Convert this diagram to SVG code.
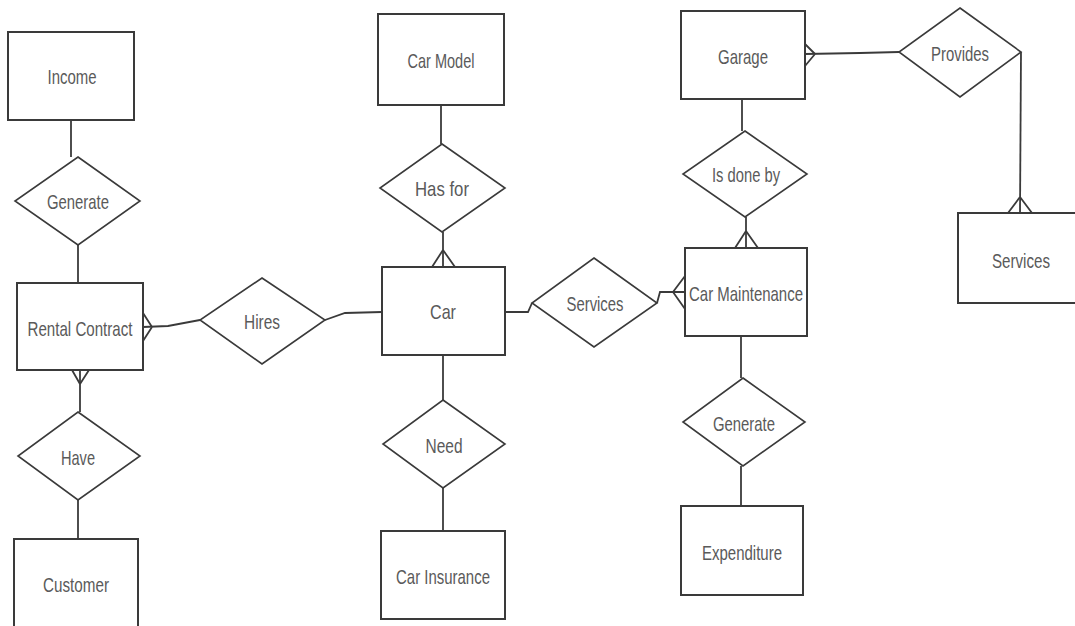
<svg xmlns="http://www.w3.org/2000/svg" width="1075" height="626" viewBox="0 0 1075 626">
<style>
.ent{fill:#fff;stroke:#3a3a3a;stroke-width:2}
.rel{fill:#fff;stroke:#3a3a3a;stroke-width:1.6}
.lbl{font-family:"Liberation Sans",Arial,sans-serif;font-size:21px;fill:#5a5a5a;text-anchor:middle;dominant-baseline:central}
.ln{fill:none;stroke:#3a3a3a;stroke-width:1.8}
</style>
<rect width="1075" height="626" fill="#fff"/>
<g id="connectors">
<path class="ln" d="M71,120 L71,157"/>
<path class="ln" d="M78,245 L78,283"/>
<path class="ln" d="M143,327 L168,326 L200,320"/>
<path class="ln" d="M152,327 L143,313 M152,327 L143,341"/>
<path class="ln" d="M80,370 L80,412"/>
<path class="ln" d="M80,384 L72,370 M80,384 L89,370"/>
<path class="ln" d="M78,500 L78,539"/>
<path class="ln" d="M325,320 L345,313 L382,312"/>
<path class="ln" d="M441,105 L441,144"/>
<path class="ln" d="M443,232 L443,267"/>
<path class="ln" d="M443,250 L432,267 M443,250 L455,267"/>
<path class="ln" d="M443,355 L443,400"/>
<path class="ln" d="M443,488 L443,531"/>
<path class="ln" d="M505,312 L528,312 L532,303"/>
<path class="ln" d="M657,303 L660,292 L685,292"/>
<path class="ln" d="M673,292 L685,276 M673,292 L685,309"/>
<path class="ln" d="M742,99 L742,131"/>
<path class="ln" d="M746,217 L746,248"/>
<path class="ln" d="M746,231 L735,248 M746,231 L758,248"/>
<path class="ln" d="M805,54 L860,53 L899,52"/>
<path class="ln" d="M815,54 L805,44 M815,54 L805,66"/>
<path class="ln" d="M1021,52 L1020,213"/>
<path class="ln" d="M1020,197 L1008,213 M1020,197 L1032,213"/>
<path class="ln" d="M741,336 L741,378"/>
<path class="ln" d="M741,466 L741,506"/>
</g>
<g id="income"><rect class="ent" x="8" y="32" width="126" height="88"/><text class="lbl" x="72" y="76" textLength="49" lengthAdjust="spacingAndGlyphs">Income</text></g>
<g id="generate1"><polygon class="rel" points="78,157 140,201 78,245 15,201"/><text class="lbl" x="78" y="201" textLength="62" lengthAdjust="spacingAndGlyphs">Generate</text></g>
<g id="rental-contract"><rect class="ent" x="17" y="283" width="126" height="87"/><text class="lbl" x="80" y="328" textLength="105" lengthAdjust="spacingAndGlyphs">Rental Contract</text></g>
<g id="hires"><polygon class="rel" points="262,278 325,320 262,364 200,320"/><text class="lbl" x="262" y="321" textLength="36" lengthAdjust="spacingAndGlyphs">Hires</text></g>
<g id="have"><polygon class="rel" points="78,412 140,456 78,500 18,456"/><text class="lbl" x="78" y="457" textLength="34" lengthAdjust="spacingAndGlyphs">Have</text></g>
<g id="customer"><rect class="ent" x="14" y="539" width="124" height="95"/><text class="lbl" x="76" y="584" textLength="66" lengthAdjust="spacingAndGlyphs">Customer</text></g>
<g id="car-model"><rect class="ent" x="378" y="14" width="126" height="91"/><text class="lbl" x="441" y="60" textLength="67" lengthAdjust="spacingAndGlyphs">Car Model</text></g>
<g id="has-for"><polygon class="rel" points="442,144 505,188 442,232 380,188"/><text class="lbl" x="442" y="188" textLength="54" lengthAdjust="spacingAndGlyphs">Has for</text></g>
<g id="car"><rect class="ent" x="382" y="267" width="123" height="88"/><text class="lbl" x="443" y="311" textLength="26" lengthAdjust="spacingAndGlyphs">Car</text></g>
<g id="need"><polygon class="rel" points="443,400 505,444 443,488 383,444"/><text class="lbl" x="444" y="445" textLength="37" lengthAdjust="spacingAndGlyphs">Need</text></g>
<g id="car-insurance"><rect class="ent" x="381" y="531" width="124" height="88"/><text class="lbl" x="443" y="576" textLength="94" lengthAdjust="spacingAndGlyphs">Car Insurance</text></g>
<g id="services-rel"><polygon class="rel" points="594,258 657,303 594,347 532,303"/><text class="lbl" x="595" y="303" textLength="57" lengthAdjust="spacingAndGlyphs">Services</text></g>
<g id="car-maintenance"><rect class="ent" x="685" y="248" width="122" height="88"/><text class="lbl" x="746" y="293" textLength="114" lengthAdjust="spacingAndGlyphs">Car Maintenance</text></g>
<g id="garage"><rect class="ent" x="681" y="11" width="124" height="88"/><text class="lbl" x="743" y="56" textLength="50" lengthAdjust="spacingAndGlyphs">Garage</text></g>
<g id="provides"><polygon class="rel" points="960,8 1021,52 960,97 899,52"/><text class="lbl" x="960" y="53" textLength="58" lengthAdjust="spacingAndGlyphs">Provides</text></g>
<g id="is-done-by"><polygon class="rel" points="745,131 807,174 745,217 683,174"/><text class="lbl" x="746" y="174" textLength="68" lengthAdjust="spacingAndGlyphs">Is done by</text></g>
<g id="services"><rect class="ent" x="958" y="213" width="124" height="90"/><text class="lbl" x="1021" y="260" textLength="58" lengthAdjust="spacingAndGlyphs">Services</text></g>
<g id="generate2"><polygon class="rel" points="743,378 805,422 743,466 683,422"/><text class="lbl" x="744" y="423" textLength="62" lengthAdjust="spacingAndGlyphs">Generate</text></g>
<g id="expenditure"><rect class="ent" x="681" y="506" width="122" height="89"/><text class="lbl" x="742" y="552" textLength="80" lengthAdjust="spacingAndGlyphs">Expenditure</text></g>
</svg>
